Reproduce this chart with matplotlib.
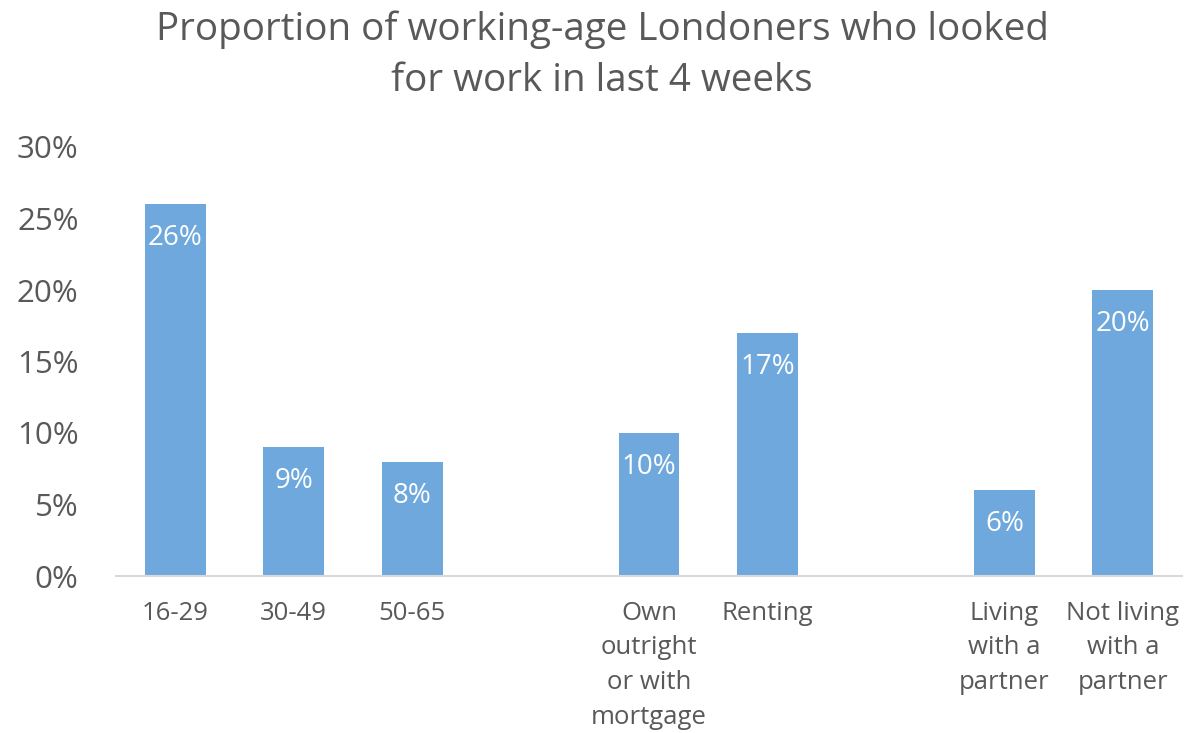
import matplotlib
matplotlib.use("Agg")
import matplotlib.pyplot as plt

plt.rcParams['font.family'] = ['Open Sans', 'DejaVu Sans']

categories = ["16-29", "30-49", "50-65", "",
              "Own\noutright\nor with\nmortgage", "Renting", "",
              "Living\nwith a\npartner", "Not living\nwith a\npartner"]
values = [26, 9, 8, None, 10, 17, None, 6, 20]
yticks = [0, 5, 10, 15, 20, 25, 30]

bar_color = "#6FA8DC"
text_color = "#595959"

fig = plt.figure(figsize=(12.04, 7.33), dpi=100)
ax = fig.add_axes([116 / 1204, 1 - 576 / 733, 1066 / 1204, (576 - 147) / 733])

xs = [i for i, v in enumerate(values) if v is not None]
vs = [v for v in values if v is not None]
ax.bar(xs, vs, width=0.515, color=bar_color, zorder=2)

for x, v in zip(xs, vs):
    ax.annotate(f"{v}%", (x, v), xytext=(0, -34), textcoords="offset pixels",
                ha="center", va="center", color="white", fontsize=20)

ax.set_xlim(-0.5, len(categories) - 0.5)
ax.set_ylim(0, 30)
ax.set_yticks(yticks)
ax.set_yticklabels([f"{t}%" for t in yticks], fontsize=22.5, color=text_color)
ax.set_xticks(range(len(categories)))
ax.set_xticklabels(categories, fontsize=18.5, color=text_color, linespacing=1.5)
ax.tick_params(axis="both", length=0)
ax.tick_params(axis="x", pad=18)
ax.tick_params(axis="y", pad=27)

for s in ["top", "right", "left"]:
    ax.spines[s].set_visible(False)
ax.spines["bottom"].set_color("#D9D9D9")
ax.spines["bottom"].set_linewidth(1.5)

fig.text(0.5, 1 - 55 / 733, "Proportion of working-age Londoners who looked\nfor work in last 4 weeks",
         ha="center", va="center", fontsize=27.8, color=text_color, linespacing=1.45)

fig.savefig("out.png", dpi=100)
